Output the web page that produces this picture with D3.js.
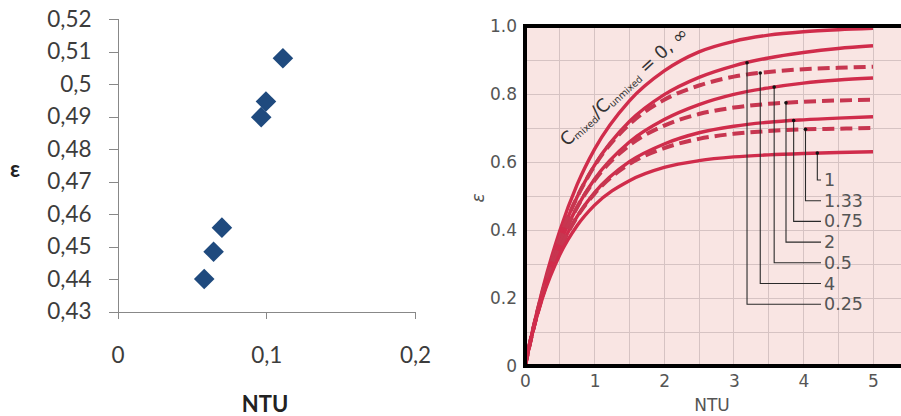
<!DOCTYPE html>
<html lang="en">
<head>
	<meta charset="UTF-8">
	<title>NTU - effectiveness</title>
	<style>
		body { margin: 0; background: #fff; }
		svg { display: block; }
		.l-axis path,
		.l-axis line {
			stroke: #888;
			shape-rendering: crispEdges;
		}
		.l-axis text {
			font-family: Lato, sans-serif;
			font-size: 22.5px;
			fill: #3c3c3c;
		}
		.l-title {
			font-family: Lato, sans-serif;
			font-weight: bold;
			font-size: 22px;
			fill: #222;
		}
		.r-axis path { display: none; }
		.r-axis text {
			font-family: "DejaVu Sans", sans-serif;
			font-size: 17px;
			fill: #555;
		}
		.r-text {
			font-family: "DejaVu Sans", sans-serif;
			fill: #555;
		}
	</style>
	<script src="https://d3js.org/d3.v7.min.js"></script>
</head>
<body>
	<script type="text/javascript">

		// left chart: measured points
		const pointNTU = [0.1112, 0.0998, 0.0966, 0.0702, 0.0646, 0.0583];
		const pointEps = [0.5079, 0.4946, 0.4898, 0.4558, 0.4484, 0.4400];
		const leftYTicks = [0.43, 0.44, 0.45, 0.46, 0.47, 0.48, 0.49, 0.5, 0.51, 0.52];
		const leftXTicks = [0, 0.1, 0.2];

		// right chart: curves
		const ntu = [0, 0.1, 0.25, 0.5, 0.75, 1, 1.5, 2, 2.5, 3, 3.5, 4, 4.5, 5];
		const epsR0   = [0, 0.096, 0.224, 0.398, 0.534, 0.638, 0.780, 0.868, 0.924, 0.955, 0.973, 0.983, 0.989, 0.993];
		const epsR025 = [0, 0.094, 0.216, 0.377, 0.498, 0.591, 0.719, 0.798, 0.849, 0.883, 0.906, 0.922, 0.934, 0.942];
		const epsR4   = [0, 0.094, 0.216, 0.377, 0.497, 0.589, 0.711, 0.783, 0.825, 0.851, 0.865, 0.873, 0.877, 0.880];
		const epsR05  = [0, 0.093, 0.210, 0.360, 0.468, 0.550, 0.659, 0.725, 0.769, 0.799, 0.818, 0.832, 0.841, 0.847];
		const epsR2   = [0, 0.093, 0.210, 0.359, 0.467, 0.546, 0.649, 0.707, 0.741, 0.760, 0.771, 0.777, 0.781, 0.783];
		const epsR075 = [0, 0.092, 0.205, 0.343, 0.440, 0.510, 0.601, 0.653, 0.686, 0.705, 0.717, 0.724, 0.729, 0.733];
		const epsR133 = [0, 0.092, 0.205, 0.343, 0.439, 0.507, 0.594, 0.641, 0.668, 0.683, 0.691, 0.696, 0.698, 0.700];
		const epsR1   = [0, 0.091, 0.199, 0.327, 0.413, 0.473, 0.545, 0.584, 0.604, 0.615, 0.621, 0.625, 0.628, 0.630];

		const rightXTicks = [0, 1, 2, 3, 4, 5];
		const rightYTicks = [0, 0.2, 0.4, 0.6, 0.8, 1.0];

		// leader labels, top to bottom, and the NTU where each leader touches its curve
		const leaderLabels = ["1", "1.33", "0.75", "2", "0.5", "4", "0.25"];
		const leaderNTU = [4.20, 4.03, 3.86, 3.75, 3.58, 3.38, 3.19];

		const curves = [
			{ name: "0",    eps: epsR0,   dashed: false },
			{ name: "0.25", eps: epsR025, dashed: false },
			{ name: "4",    eps: epsR4,   dashed: true },
			{ name: "0.5",  eps: epsR05,  dashed: false },
			{ name: "2",    eps: epsR2,   dashed: true },
			{ name: "0.75", eps: epsR075, dashed: false },
			{ name: "1.33", eps: epsR133, dashed: true },
			{ name: "1",    eps: epsR1,   dashed: false }
		];

		const W = 901, H = 416;
		const svg = d3.select("body").append("svg")
			.attr("width", W)
			.attr("height", H);

		/* ---------- left scatter ---------- */
		const lx = d3.scaleLinear().domain([0, 0.2]).range([117.5, 415]);
		const ly = d3.scaleLinear().domain([0.43, 0.52]).range([311.5, 19]);
		const comma = d3.formatLocale({ decimal: ",", thousands: " ", grouping: [3], currency: ["", ""] }).format;

		svg.append("g")
			.attr("class", "l-axis")
			.attr("transform", "translate(" + lx(0) + ",0)")
			.call(d3.axisLeft(ly).tickValues(leftYTicks).tickSize(9).tickPadding(17)
				.tickFormat(d => comma(".2~f")(d)));

		svg.append("g")
			.attr("class", "l-axis")
			.attr("transform", "translate(0," + ly(0.43) + ")")
			.call(d3.axisBottom(lx).tickValues(leftXTicks).tickSize(7).tickPadding(29)
				.tickFormat(d => comma(".1~f")(d)));

		// diamonds (symbolDiamond2 is already a square on its corner)
		svg.append("g").selectAll("path")
			.data(pointNTU).enter()
			.append("path")
			.attr("d", d3.symbol(d3.symbolDiamond2, 270))
			.attr("transform", (d, i) => "translate(" + lx(d) + "," + ly(pointEps[i]) + ")")
			.attr("fill", "#1f4a7e");

		svg.append("text").attr("class", "l-title")
			.attr("x", 15).attr("y", 168)
			.attr("text-anchor", "middle").attr("dominant-baseline", "central")
			.text("ε");
		svg.append("text").attr("class", "l-title")
			.attr("x", 265).attr("y", 412)
			.attr("text-anchor", "middle")
			.text("NTU");

		/* ---------- right chart ---------- */
		const rx = d3.scaleLinear().domain([0, 5]).range([525, 873]);
		const ry = d3.scaleLinear().domain([0, 1]).range([366, 26]);

		svg.append("rect")
			.attr("x", rx(0)).attr("y", ry(1))
			.attr("width", W - rx(0)).attr("height", ry(0) - ry(1))
			.attr("fill", "#f9e5e3");

		const grid = svg.append("g").attr("stroke", "#d6c3c3").attr("stroke-width", 1)
			.attr("shape-rendering", "crispEdges");
		grid.selectAll(".gx").data(d3.range(1, 11).map(i => i * 0.5)).enter()
			.append("line")
			.attr("x1", d => rx(d)).attr("x2", d => rx(d))
			.attr("y1", ry(1)).attr("y2", ry(0));
		grid.selectAll(".gy").data(d3.range(1, 10).map(i => i * 0.1)).enter()
			.append("line")
			.attr("x1", rx(0)).attr("x2", W)
			.attr("y1", d => ry(d)).attr("y2", d => ry(d));

		const line = d3.line()
			.x((d, i) => rx(ntu[i]))
			.y(d => ry(d))
			.curve(d3.curveMonotoneX);

		svg.append("g").selectAll("path")
			.data(curves).enter()
			.append("path")
			.attr("d", d => line(d.eps))
			.attr("fill", "none")
			.attr("stroke", d => d.dashed ? "#c73650" : "#d02c4b")
			.attr("stroke-width", d => d.dashed ? 4 : 3.4)
			.attr("stroke-dasharray", d => d.dashed ? "12,6" : null)
			.attr("stroke-linecap", "butt");

		// frame
		const frame = svg.append("g").attr("stroke", "#000").attr("stroke-width", 4);
		frame.append("line").attr("x1", rx(0)).attr("x2", rx(0)).attr("y1", ry(1) - 2).attr("y2", ry(0) + 2);
		frame.append("line").attr("x1", rx(0)).attr("x2", W).attr("y1", ry(1)).attr("y2", ry(1));
		frame.append("line").attr("x1", rx(0)).attr("x2", W).attr("y1", ry(0)).attr("y2", ry(0));

		svg.append("g")
			.attr("class", "r-axis")
			.attr("transform", "translate(" + rx(0) + ",0)")
			.call(d3.axisLeft(ry).tickValues(rightYTicks).tickSize(0).tickPadding(8)
				.tickFormat(d => d === 0 ? "0" : d3.format(".1f")(d)));

		svg.append("g")
			.attr("class", "r-axis")
			.attr("transform", "translate(0," + ry(0) + ")")
			.call(d3.axisBottom(rx).tickValues(rightXTicks).tickSize(0).tickPadding(9)
				.tickFormat(d3.format("d")));

		svg.append("text").attr("class", "r-text")
			.attr("x", 712).attr("y", 405)
			.attr("text-anchor", "middle").attr("dominant-baseline", "central")
			.attr("font-size", 17)
			.text("NTU");

		svg.append("text").attr("class", "r-text")
			.attr("transform", "translate(478,198) rotate(-90)")
			.attr("text-anchor", "middle").attr("dominant-baseline", "central")
			.attr("font-size", 17).attr("font-style", "italic")
			.text("ε");

		// leaders
		const lead = svg.append("g");
		leaderLabels.forEach((lab, i) => {
			const c = curves.find(k => k.name === lab);
			const epsAt = d3.scaleLinear().domain(ntu).range(c.eps);
			const x0 = rx(leaderNTU[i]);
			const y0 = ry(epsAt(leaderNTU[i]));
			const yRow = 180 + i * 20.7;
			lead.append("path")
				.attr("d", "M" + x0 + "," + y0 + "V" + yRow + "H821")
				.attr("fill", "none")
				.attr("stroke", "#2a2a2a")
				.attr("stroke-width", 1.1);
			lead.append("circle")
				.attr("cx", x0).attr("cy", y0).attr("r", 1.8)
				.attr("fill", "#111");
			lead.append("text").attr("class", "r-text")
				.attr("x", 824).attr("y", yRow)
				.attr("dominant-baseline", "central")
				.attr("font-size", 17.5)
				.text(lab);
		});

		// curve family label along the top curve
		const lbl = svg.append("text").attr("class", "r-text")
			.attr("transform", "translate(567,147) rotate(-42.5)")
			.style("fill", "#333");
		lbl.append("tspan").attr("font-size", 18).text("C");
		lbl.append("tspan").attr("font-size", 9.5).attr("dy", 2).text("mixed");
		lbl.append("tspan").attr("font-size", 18).attr("dy", -2).text("/C");
		lbl.append("tspan").attr("font-size", 9.5).attr("dy", 2).text("unmixed");
		lbl.append("tspan").attr("font-size", 18).attr("dy", -2).text(" = 0, ∞");

	</script>
</body>
</html>
